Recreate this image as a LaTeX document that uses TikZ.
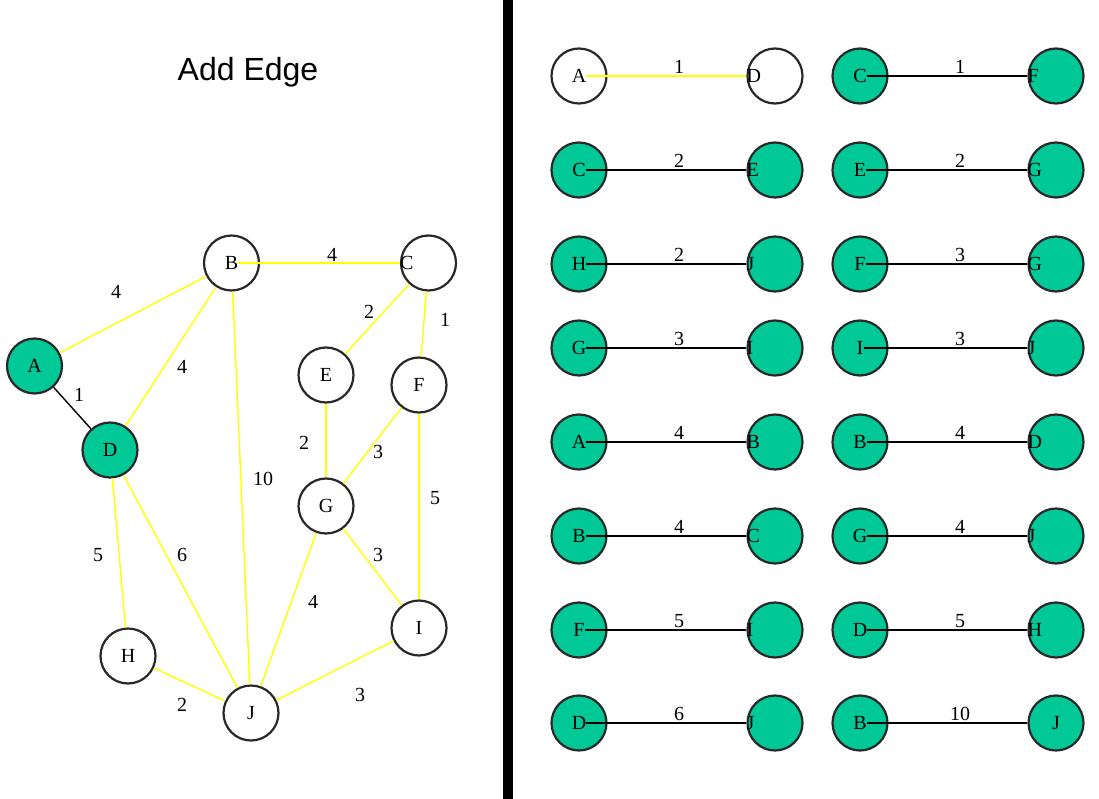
\documentclass[tikz,border=0pt]{standalone}
\usepackage{fontspec}
\setmainfont{Liberation Serif}
\newfontfamily\titlefont{Liberation Sans}
\definecolor{tealg}{RGB}{0,201,151}
\definecolor{ringc}{RGB}{40,40,40}
\definecolor{edgey}{RGB}{255,255,0}
\begin{document}
\begin{tikzpicture}[x=1pt,y=-1pt,
  vnode/.style={circle, draw=ringc, line width=2.2pt, minimum size=55pt, inner sep=0pt, fill=white},
  visited/.style={fill=tealg},
  unvisited/.style={fill=white},
  lab/.style={font=\fontsize{20}{20}\selectfont, inner sep=0pt},
  wt/.style={font=\fontsize{20}{20}\selectfont, inner sep=0pt},
  yedge/.style={draw=edgey, line width=1.4pt},
  bedge/.style={draw=black, line width=1.4pt}
]
\useasboundingbox (0,0) rectangle (1099,799);
\fill[black] (503,0) rectangle (513,799);
\node[font=\titlefont\fontsize{32}{32}\selectfont, anchor=base, inner sep=0pt] (title) at (248,81) {Add Edge};

% left graph
\node[vnode, visited] (A) at (34.5,366) {};
\node[vnode] (B) at (231.5,263) {};
\node[vnode] (C) at (428.5,263) {};
\node[vnode, visited] (D) at (110,450) {};
\node[vnode] (E) at (326,375) {};
\node[vnode] (F) at (419,385) {};
\node[vnode] (G) at (326,506) {};
\node[vnode] (H) at (128,656) {};
\node[vnode] (I) at (419,628) {};
\node[vnode] (J) at (251,713) {};
\foreach \n in {A,B,D,E,F,G,H,I,J} {\node[lab] (\n t) at (\n) {\n};}
\node[lab, anchor=west] (Ct) at (C.west) {C};

\draw[yedge] (A) -- (B);
\draw[yedge] (Bt.east) -- (Ct.west);
\draw[yedge] (B) -- (D);
\draw[yedge] (B) -- (J);
\draw[yedge] (C) -- (E);
\draw[yedge] (C) -- (F);
\draw[yedge] (E) -- (G);
\draw[yedge] (F) -- (G);
\draw[yedge] (F) -- (I);
\draw[yedge] (G) -- (I);
\draw[yedge] (G) -- (J);
\draw[yedge] (D) -- (H);
\draw[yedge] (D) -- (J);
\draw[yedge] (H) -- (J);
\draw[yedge] (I) -- (J);
\draw[bedge] (A) -- (D);

\node[wt] (wAB) at (116,292) {4};
\node[wt] (wBC) at (332,255) {4};
\node[wt] (wCE) at (369,312) {2};
\node[wt] (wCF) at (445,320) {1};
\node[wt] (wAD) at (79,395) {1};
\node[wt] (wBD) at (182,367) {4};
\node[wt] (wEG) at (304,443) {2};
\node[wt] (wFG) at (378,452) {3};
\node[wt] (wBJ) at (263,479) {10};
\node[wt] (wFI) at (435,498) {5};
\node[wt] (wDH) at (98,555) {5};
\node[wt] (wDJ) at (182,555) {6};
\node[wt] (wGI) at (378,555) {3};
\node[wt] (wGJ) at (313,602) {4};
\node[wt] (wHJ) at (182,705) {2};
\node[wt] (wIJ) at (360,695) {3};

% right panel: sorted edge list
\foreach \l/\r/\w/\x/\y/\fs/\es/\ra [count=\k] in {
  A/D/1/579/76/unvisited/yedge/west,
  C/E/2/579/170/visited/bedge/west,
  H/J/2/579/264/visited/bedge/west,
  G/I/3/579/348/visited/bedge/west,
  A/B/4/579/442/visited/bedge/west,
  B/C/4/579/536/visited/bedge/west,
  F/I/5/579/630/visited/bedge/west,
  D/J/6/579/723/visited/bedge/west,
  C/F/1/860/76/visited/bedge/west,
  E/G/2/860/170/visited/bedge/west,
  F/G/3/860/264/visited/bedge/west,
  I/J/3/860/348/visited/bedge/west,
  B/D/4/860/442/visited/bedge/west,
  G/J/4/860/536/visited/bedge/west,
  D/H/5/860/630/visited/bedge/west,
  B/J/10/860/723/visited/bedge/center} {
  \node[vnode, \fs] (L\k) at (\x,\y) {};
  \node[lab] (Lt\k) at (L\k) {\l};
  \node[vnode, \fs] (R\k) at (\x+196,\y) {};
  \node[lab, anchor=\ra] (Rt\k) at (R\k.\ra) {\r};
  \draw[\es] (Lt\k.east) -- (R\k.west);
  \node[wt] (W\k) at (\x+100,\y-9) {\w};
}
\end{tikzpicture}
\end{document}
